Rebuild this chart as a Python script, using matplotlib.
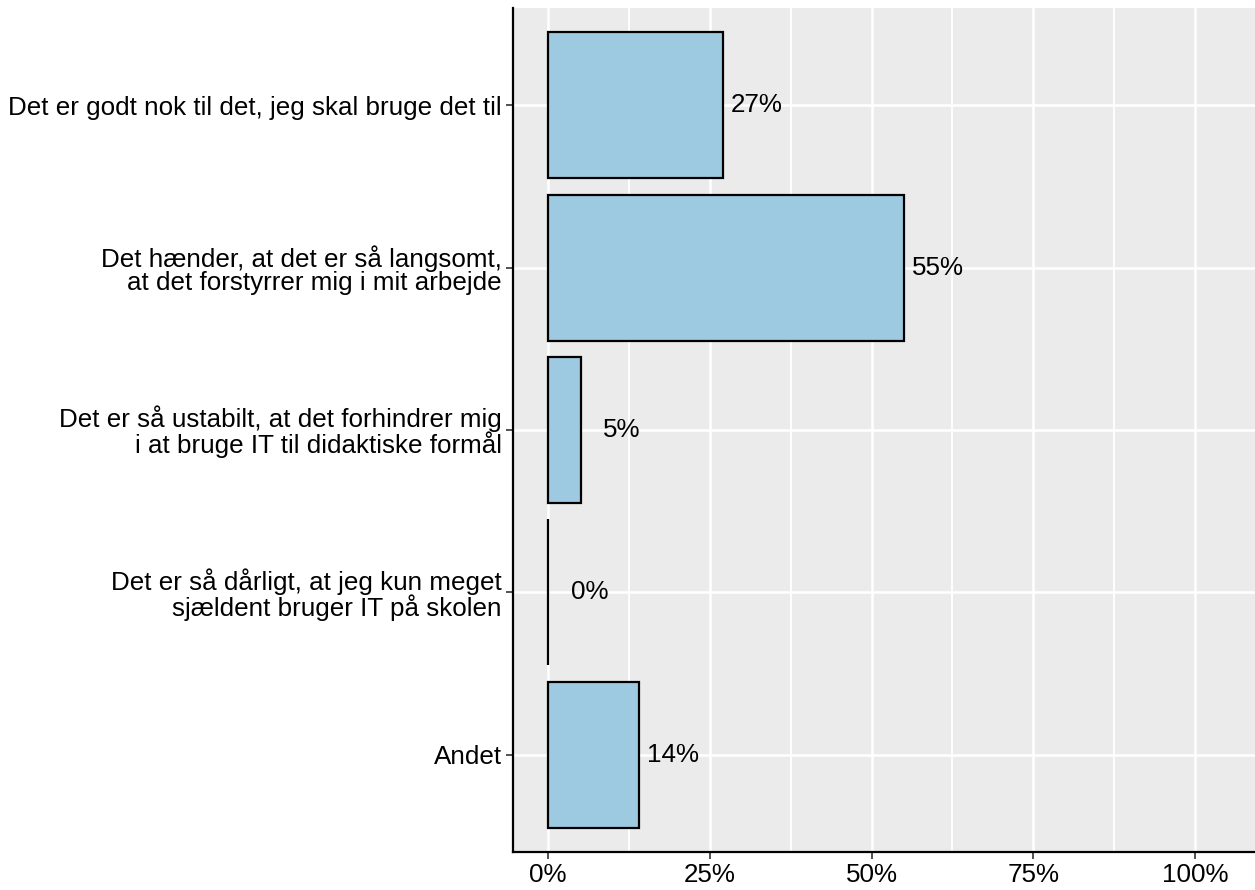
import matplotlib
matplotlib.use("Agg")
import matplotlib.pyplot as plt
import numpy as np

categories = [
    "Det er godt nok til det, jeg skal bruge det til",
    "Det hænder, at det er så langsomt,\nat det forstyrrer mig i mit arbejde",
    "Det er så ustabilt, at det forhindrer mig\ni at bruge IT til didaktiske formål",
    "Det er så dårligt, at jeg kun meget\nsjældent bruger IT på skolen",
    "Andet",
]
values = [27, 55, 5, 0, 14]
value_labels = ["27%", "55%", "5%", "0%", "14%"]
x_ticks = [0, 25, 50, 75, 100]
x_tick_labels = ["0%", "25%", "50%", "75%", "100%"]

plt.rcParams['font.family'] = ['Liberation Sans', 'DejaVu Sans']
FS = 18.7

W, H = 1255, 890
fig = plt.figure(figsize=(W / 100, H / 100), dpi=100)
ax = fig.add_axes([513 / W, (890 - 852) / H, (1255 - 513) / W, (852 - 8) / H])

ax.set_facecolor('#EBEBEB')
n = len(categories)
ypos = np.arange(n)[::-1] + 1  # top category at top

# grid
for xm in [12.5, 37.5, 62.5, 87.5]:
    ax.axvline(xm, color='white', lw=1.3, zorder=0.5)
for xt in x_ticks:
    ax.axvline(xt, color='white', lw=1.8, zorder=0.5)
for yp in ypos:
    ax.axhline(yp, color='white', lw=1.8, zorder=0.5)

ax.barh(ypos, values, height=0.9, color='#9ECAE1', edgecolor='black', linewidth=1.6, zorder=2)

for yp, v, lab in zip(ypos, values, value_labels):
    ax.text(v + 9.25, yp, lab, ha='right', va='center', fontsize=FS, color='black', zorder=3)

ax.set_xlim(-5.45, 109.3)
ax.set_ylim(0.4, 5.6)
ax.set_xticks(x_ticks)
ax.set_xticklabels(x_tick_labels, fontsize=FS)
ax.set_yticks(ypos)
ax.set_yticklabels(categories, fontsize=FS, linespacing=0.96)
ax.tick_params(axis='both', length=5, width=1.2, color='#333333', labelcolor='black')
ax.tick_params(axis='x', pad=3)
ax.tick_params(axis='y', pad=3)

for s in ['top', 'right']:
    ax.spines[s].set_visible(False)
for s in ['left', 'bottom']:
    ax.spines[s].set_color('black')
    ax.spines[s].set_linewidth(1.6)

fig.savefig('out.png', dpi=100)
